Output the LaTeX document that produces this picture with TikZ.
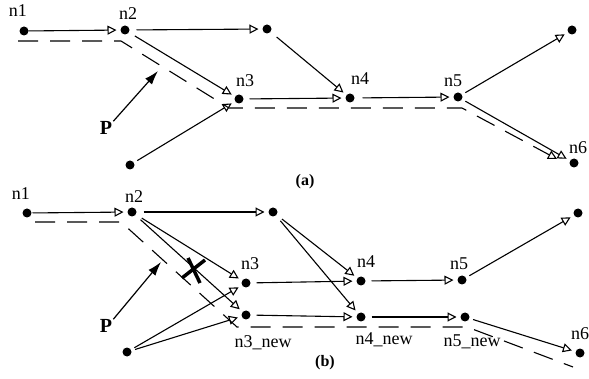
\documentclass[tikz,border=0pt]{standalone}
\usepackage{fontspec}
\setmainfont{Liberation Serif}
\usetikzlibrary{arrows.meta}
\begin{document}
\begin{tikzpicture}[x=1pt,y=-1pt,
  dot/.style={circle,fill=black,inner sep=0pt,minimum size=9pt,outer sep=4pt},
  lbl/.style={inner sep=0pt,font=\fontsize{18}{20}\selectfont},
  boldtxt/.style={inner sep=0pt,font=\fontsize{20}{22}\selectfont\bfseries},
  captxt/.style={inner sep=0pt,font=\fontsize{16}{18}\selectfont\bfseries},
  conn/.style={line width=1.1pt,-{Triangle[open,length=9pt,width=9pt,line width=1.1pt]}},
  ppath/.style={line width=1.1pt,dash pattern=on 20pt off 12pt},
  parrow/.style={line width=1.2pt,-{Latex[length=14pt,width=9pt]}},
  crossmark/.style={line width=3.5pt}]
\useasboundingbox (0,0) rectangle (589,379);
% ---------------- (a) ----------------
\node[dot] (n1a) at (24,31) {};
\node[dot] (n2a) at (125,30) {};
\node[dot] (ta) at (267,29) {};
\node[dot] (n3a) at (239,99) {};
\node[dot] (n4a) at (350,98) {};
\node[dot] (n5a) at (458,97) {};
\node[dot] (tra) at (572,30) {};
\node[dot] (n6a) at (574,163) {};
\node[dot] (ba) at (130,165) {};
\node[lbl] (l1a) at (18,11) {n1};
\node[lbl] (l2a) at (128,14) {n2};
\node[lbl] (l3a) at (245,81) {n3};
\node[lbl] (l4a) at (360,79) {n4};
\node[lbl] (l5a) at (453,81) {n5};
\node[lbl] (l6a) at (578,148) {n6};
\node[boldtxt] (pa) at (106,128) {P};
\node[captxt] (capa) at (305,182) {(a)};
\draw[conn,shorten <=-4pt] (n1a) -- (n2a);
\draw[conn,shorten <=3pt] (n2a) -- (ta);
\draw[conn,shorten <=3pt] (n2a) -- (n3a);
\draw[conn,shorten <=4pt] (ta) -- (n4a);
\draw[conn,shorten <=2pt] (n3a) -- (n4a);
\draw[conn,shorten <=4pt] (n4a) -- (n5a);
\draw[conn] (n5a) -- (tra);
\draw[conn] (n5a) -- (n6a);
\draw[conn] (ba) -- (n3a);
\coordinate (da0) at (18,41);
\coordinate (da1) at (121,41);
\coordinate (da2) at (229,108);
\coordinate (da3) at (462,108);
\coordinate (da4) at (557,159);
\draw[ppath,-{Triangle[open,length=9pt,width=9pt,line width=1.1pt]}] (da0) -- (da1) -- (da2) -- (da3) -- (da4);
\coordinate (pat) at (158,71);
\draw[parrow] (pa.north east) ++(1,0) -- (pat);
% ---------------- (b) ----------------
\node[dot] (n1b) at (27,213) {};
\node[dot] (n2b) at (132,212) {};
\node[dot] (tb) at (273,212) {};
\node[dot] (n3b) at (246,283) {};
\node[dot] (n3nb) at (246,315) {};
\node[dot] (n4b) at (361,281) {};
\node[dot] (n4nb) at (361,317) {};
\node[dot] (n5b) at (462,280) {};
\node[dot] (n5nb) at (465,317) {};
\node[dot] (trb) at (578,213) {};
\node[dot] (n6b) at (580,353) {};
\node[dot] (bb) at (127,352) {};
\node[lbl] (l1b) at (21,194) {n1};
\node[lbl] (l2b) at (134,197) {n2};
\node[lbl] (l3b) at (250,264) {n3};
\node[lbl] (l3nb) at (263,343) {n3\_new};
\node[lbl] (l4b) at (366,262) {n4};
\node[lbl] (l4nb) at (384,340) {n4\_new};
\node[lbl] (l5b) at (459,264) {n5};
\node[lbl] (l5nb) at (472,342) {n5\_new};
\node[lbl] (l6b) at (580,334) {n6};
\node[boldtxt] (pb) at (106,326) {P};
\node[captxt] (capb) at (325,363) {(b)};
\draw[conn,shorten <=-3pt] (n1b) -- (n2b);
\draw[conn,shorten <=3pt] (n2b) -- (tb);
\draw[conn,shorten <=3pt] (n2b) -- (n3b);
\draw[conn,shorten <=3pt] (n2b) -- (n3nb);
\draw[conn,shorten <=3pt] (tb) -- (n4b);
\draw[conn,shorten <=3pt] (tb) -- (n4nb);
\draw[conn,shorten <=2pt] (n3b) -- (n4b);
\draw[conn,shorten <=2pt] (n3nb) -- (n4nb);
\draw[conn,shorten <=2pt] (n4b) -- (n5b);
\draw[conn,shorten <=2pt] (n4nb) -- (n5nb);
\draw[conn] (n5b) -- (trb);
\draw[conn] (n5nb) -- (n6b);
\draw[conn] (bb) -- (n3b);
\draw[conn] (bb) -- (n3nb);
\coordinate (db0) at (35,222);
\coordinate (db1) at (121,222);
\coordinate (db2) at (237,327);
\coordinate (db3) at (467,327);
\coordinate (db4) at (573,367);
\draw[ppath] (db0) -- (db1) -- (db2) -- (db3) -- (db4);
\coordinate (pbt) at (161,262);
\draw[parrow] (pb.north east) ++(1,0) -- (pbt);
\coordinate (xa1) at (182,278);
\coordinate (xa2) at (205,260);
\coordinate (xb1) at (188,258);
\coordinate (xb2) at (200,283);
\draw[crossmark] (xa1) -- (xa2);
\draw[crossmark] (xb1) -- (xb2);
\end{tikzpicture}
\end{document}
